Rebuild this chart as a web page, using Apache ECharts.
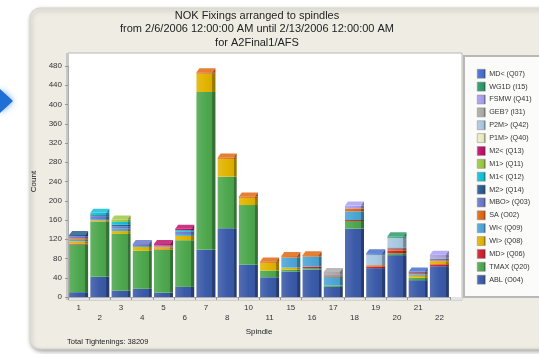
<!DOCTYPE html>
<html><head><meta charset="utf-8">
<script src="https://cdn.jsdelivr.net/npm/echarts@6/dist/echarts.min.js"></script>
<style>html,body{margin:0;padding:0;background:#fff}#c{width:539px;height:354px}</style>
</head><body><div id="c"></div>
<script>
// ---- data ----
const categories = ['1','2','3','4','5','6','7','8','10','11','15','16','17','18','19','20','21','22'];
const yMin = 0, yMax = 480, yStep = 40;
const titleLines = ['NOK Fixings arranged to spindles', 'from 2/6/2006 12:00:00 AM until 2/13/2006 12:00:00 AM', 'for A2Final1/AFS'];
const footerText = 'Total Tightenings: 38209';
// stacked bottom -> top
const abl  = [10,42,13,17,9,21,98,143,67,41,53,57,21,142,60,87,35,64];
const tmax = [99,114,118,79,89,97,328,107,124,14,4,3,3,16,0,4,5,0];
const mdGt = [2,0,0,0,1,0,0,0,0,0,0,3,0,2,3,5,0,4];
const wiGt = [5,3,6,8,4,9,38,37,15,16,4,0,0,0,0,0,4,6];
const wiLt = [3,3,5,2,0,4,0,0,0,0,21,21,18,18,0,0,3,0];
const sa   = [3,0,0,0,2,0,3,3,3,3,3,3,3,6,3,4,3,2];
const mboGt= [4,6,5,4,2,4,0,0,0,0,0,0,2,0,0,3,0,4];
const m2Gt = [3,2,3,0,0,1,0,0,0,0,0,0,0,0,0,0,0,0];
const m1Lt = [0,5,6,0,0,3,0,0,0,0,0,0,0,0,0,0,0,0];
const m1Gt = [0,0,5,0,0,0,0,0,0,0,0,0,0,0,0,0,0,0];
const m2Lt = [0,0,0,0,3,3,0,0,0,0,0,0,0,0,0,0,0,0];
const p1mGt= [0,0,0,0,0,0,0,0,0,0,0,0,0,0,0,0,0,0];
const p2mGt= [0,0,0,0,0,0,0,0,0,0,0,0,0,0,21,20,0,0];
const geb  = [0,0,0,0,0,0,0,0,0,0,0,0,5,0,0,0,0,3];
const fsmw = [0,0,0,0,0,0,0,0,0,0,0,0,0,6,0,0,0,5];
const wg1d = [0,0,0,0,0,0,0,0,0,0,0,0,0,0,1,3,0,0];
const mdLt = [0,0,0,0,0,0,0,0,0,0,0,0,0,0,3,0,3,0];

const seriesDefs = [
  ['ABL (O04)', abl, '#3b5ba9'],
  ['TMAX (Q20)', tmax, '#4ea84e'],
  ['MD> (Q06)', mdGt, '#d0202e'],
  ['WI> (Q08)', wiGt, '#e2b400'],
  ['WI< (Q09)', wiLt, '#4ea6d6'],
  ['SA (O02)', sa, '#e06812'],
  ['MBO> (Q03)', mboGt, '#6b79c9'],
  ['M2> (Q14)', m2Gt, '#2b5b8f'],
  ['M1< (Q12)', m1Lt, '#12c0d6'],
  ['M1> (Q11)', m1Gt, '#9cc843'],
  ['M2< (Q13)', m2Lt, '#c0126c'],
  ['P1M> (Q40)', p1mGt, '#ececc0'],
  ['P2M> (Q42)', p2mGt, '#a9c9e2'],
  ['GEB? (I31)', geb, '#ababab'],
  ['FSMW (Q41)', fsmw, '#a99ff0'],
  ['WG1D (I15)', wg1d, '#2c9a6c'],
  ['MD< (Q07)', mdLt, '#4a6ed0']
];

function shade(hex, f) {
  const n = parseInt(hex.slice(1), 16);
  let r = (n >> 16) & 255, g = (n >> 8) & 255, b = n & 255;
  if (f >= 0) { r += (255 - r) * f; g += (255 - g) * f; b += (255 - b) * f; }
  else { r *= (1 + f); g *= (1 + f); b *= (1 + f); }
  return 'rgb(' + Math.round(r) + ',' + Math.round(g) + ',' + Math.round(b) + ')';
}

const BW = 19, FRONT = 16, DX = 3, DY = 4;
const FONT = '"Liberation Sans", Arial, sans-serif';

const barSeries = seriesDefs.map(([name, vals, col]) => ({
  name, type: 'bar', stack: 'all', data: vals, barWidth: BW,
  itemStyle: {
    color: new echarts.graphic.LinearGradient(0, 0, 1, 0, [
      {offset: 0, color: shade(col, 0.12)},
      {offset: 0.5, color: col},
      {offset: FRONT / BW, color: shade(col, -0.05)},
      {offset: FRONT / BW, color: shade(col, -0.3)},
      {offset: 1, color: shade(col, -0.35)}
    ])
  },
  emphasis: {disabled: true}
}));

// caps: total and top segment per category
const capData = categories.map((c, i) => {
  let tot = 0, top = 0;
  seriesDefs.forEach(([n, v], k) => { tot += v[i]; if (v[i] > 0) top = k; });
  return [i, tot, top];
});

const capSeries = {
  type: 'custom', z: 5, silent: true, data: capData, encode: {x: 0, y: 1},
  renderItem: function (params, api) {
    const i = api.value(0), tot = api.value(1), k = api.value(2);
    const p = api.coord([i, tot]);
    const col = seriesDefs[k][2];
    const x0 = p[0] - BW / 2, y = p[1];
    return {type: 'group', children: [
      {type: 'polygon', shape: {points: [[x0, y], [x0 + FRONT, y], [x0 + FRONT + DX, y - DY], [x0 + DX, y - DY]]},
        style: {fill: shade(col, 0.15)}},
      {type: 'polygon', shape: {points: [[x0 + FRONT, y], [x0 + FRONT + DX, y - DY], [x0 + FRONT + DX, y]]},
        style: {fill: shade(col, -0.3)}}
    ]};
  }
};

const chart = echarts.init(document.getElementById('c'), null, {renderer: 'canvas'});
chart.setOption({
  animation: false,
  backgroundColor: '#ffffff',
  textStyle: {fontFamily: FONT},
  graphic: [
    {type: 'polygon', z: -10, shape: {points: [[0, 89], [13, 101], [0, 113]]},
      style: {fill: '#1f6fd6', shadowBlur: 6, shadowColor: 'rgba(60,140,255,0.8)'}},
    {type: 'rect', z: -10, shape: {x: 30, y: 8, width: 530, height: 341, r: 10},
      style: {fill: '#efede3', stroke: '#d8d6cc', lineWidth: 1, shadowBlur: 4, shadowOffsetY: 2, shadowOffsetX: 1, shadowColor: 'rgba(0,0,0,0.35)'}},
    {type: 'rect', z: -9, shape: {x: 68, y: 53, width: 394, height: 247},
      style: {fill: '#ffffff', stroke: '#b8b8b8', lineWidth: 1}},
    {type: 'rect', z: -9, shape: {x: 66, y: 53, width: 3, height: 247},
      style: {fill: '#c8c8c8'}},
    {type: 'rect', z: -9, shape: {x: 68, y: 297, width: 394, height: 3},
      style: {fill: '#e4e4e4'}},
    {type: 'rect', z: -9, shape: {x: 464, y: 56, width: 80, height: 241},
      style: {fill: '#fbfbf9', stroke: '#b8b8b8', lineWidth: 2}},
    {type: 'text', z: 10, x: 257, y: 9, style: {text: titleLines.join('\n'), fill: '#222', font: '11px ' + FONT, align: 'center', lineHeight: 13.5}},
    {type: 'text', z: 10, x: 67, y: 338, style: {text: footerText, fill: '#222', font: '7.5px ' + FONT}}
  ],
  legend: {
    orient: 'vertical', left: 477, top: 69, padding: 0, itemWidth: 8, itemHeight: 9, itemGap: 3.37, icon: 'rect',
    data: seriesDefs.map(d => d[0]).reverse(), selectedMode: false,
    textStyle: {fontSize: 7.2, color: '#333', fontFamily: FONT, lineHeight: 9, padding: [0, 0, 0, -1]},
    itemStyle: {borderColor: '#888', borderWidth: 0.5}
  },
  grid: {left: 68, right: 89, top: 66, bottom: 57},
  xAxis: {
    type: 'category', data: categories,
    name: 'Spindle', nameLocation: 'middle', nameGap: 27,
    nameTextStyle: {fontSize: 8, color: '#222', fontFamily: FONT},
    axisLine: {lineStyle: {color: '#aaa'}},
    axisTick: {show: true, length: 3, lineStyle: {color: '#999'}},
    axisLabel: {interval: 0, fontSize: 8, color: '#333', lineHeight: 10, margin: 6,
      formatter: (v, idx) => (idx % 2 ? '\n' + v : v)}
  },
  yAxis: {
    type: 'value', min: yMin, max: yMax, interval: yStep,
    name: 'Count', nameLocation: 'middle', nameGap: 28, nameRotate: 90,
    nameTextStyle: {fontSize: 8, color: '#222', fontFamily: FONT},
    axisLine: {show: true, lineStyle: {color: '#aaa'}},
    axisTick: {show: true, length: 3, lineStyle: {color: '#999'}},
    splitLine: {show: false},
    axisLabel: {fontSize: 8, color: '#333', margin: 6}
  },
  series: barSeries.concat([capSeries])
});
</script>
</body></html>
